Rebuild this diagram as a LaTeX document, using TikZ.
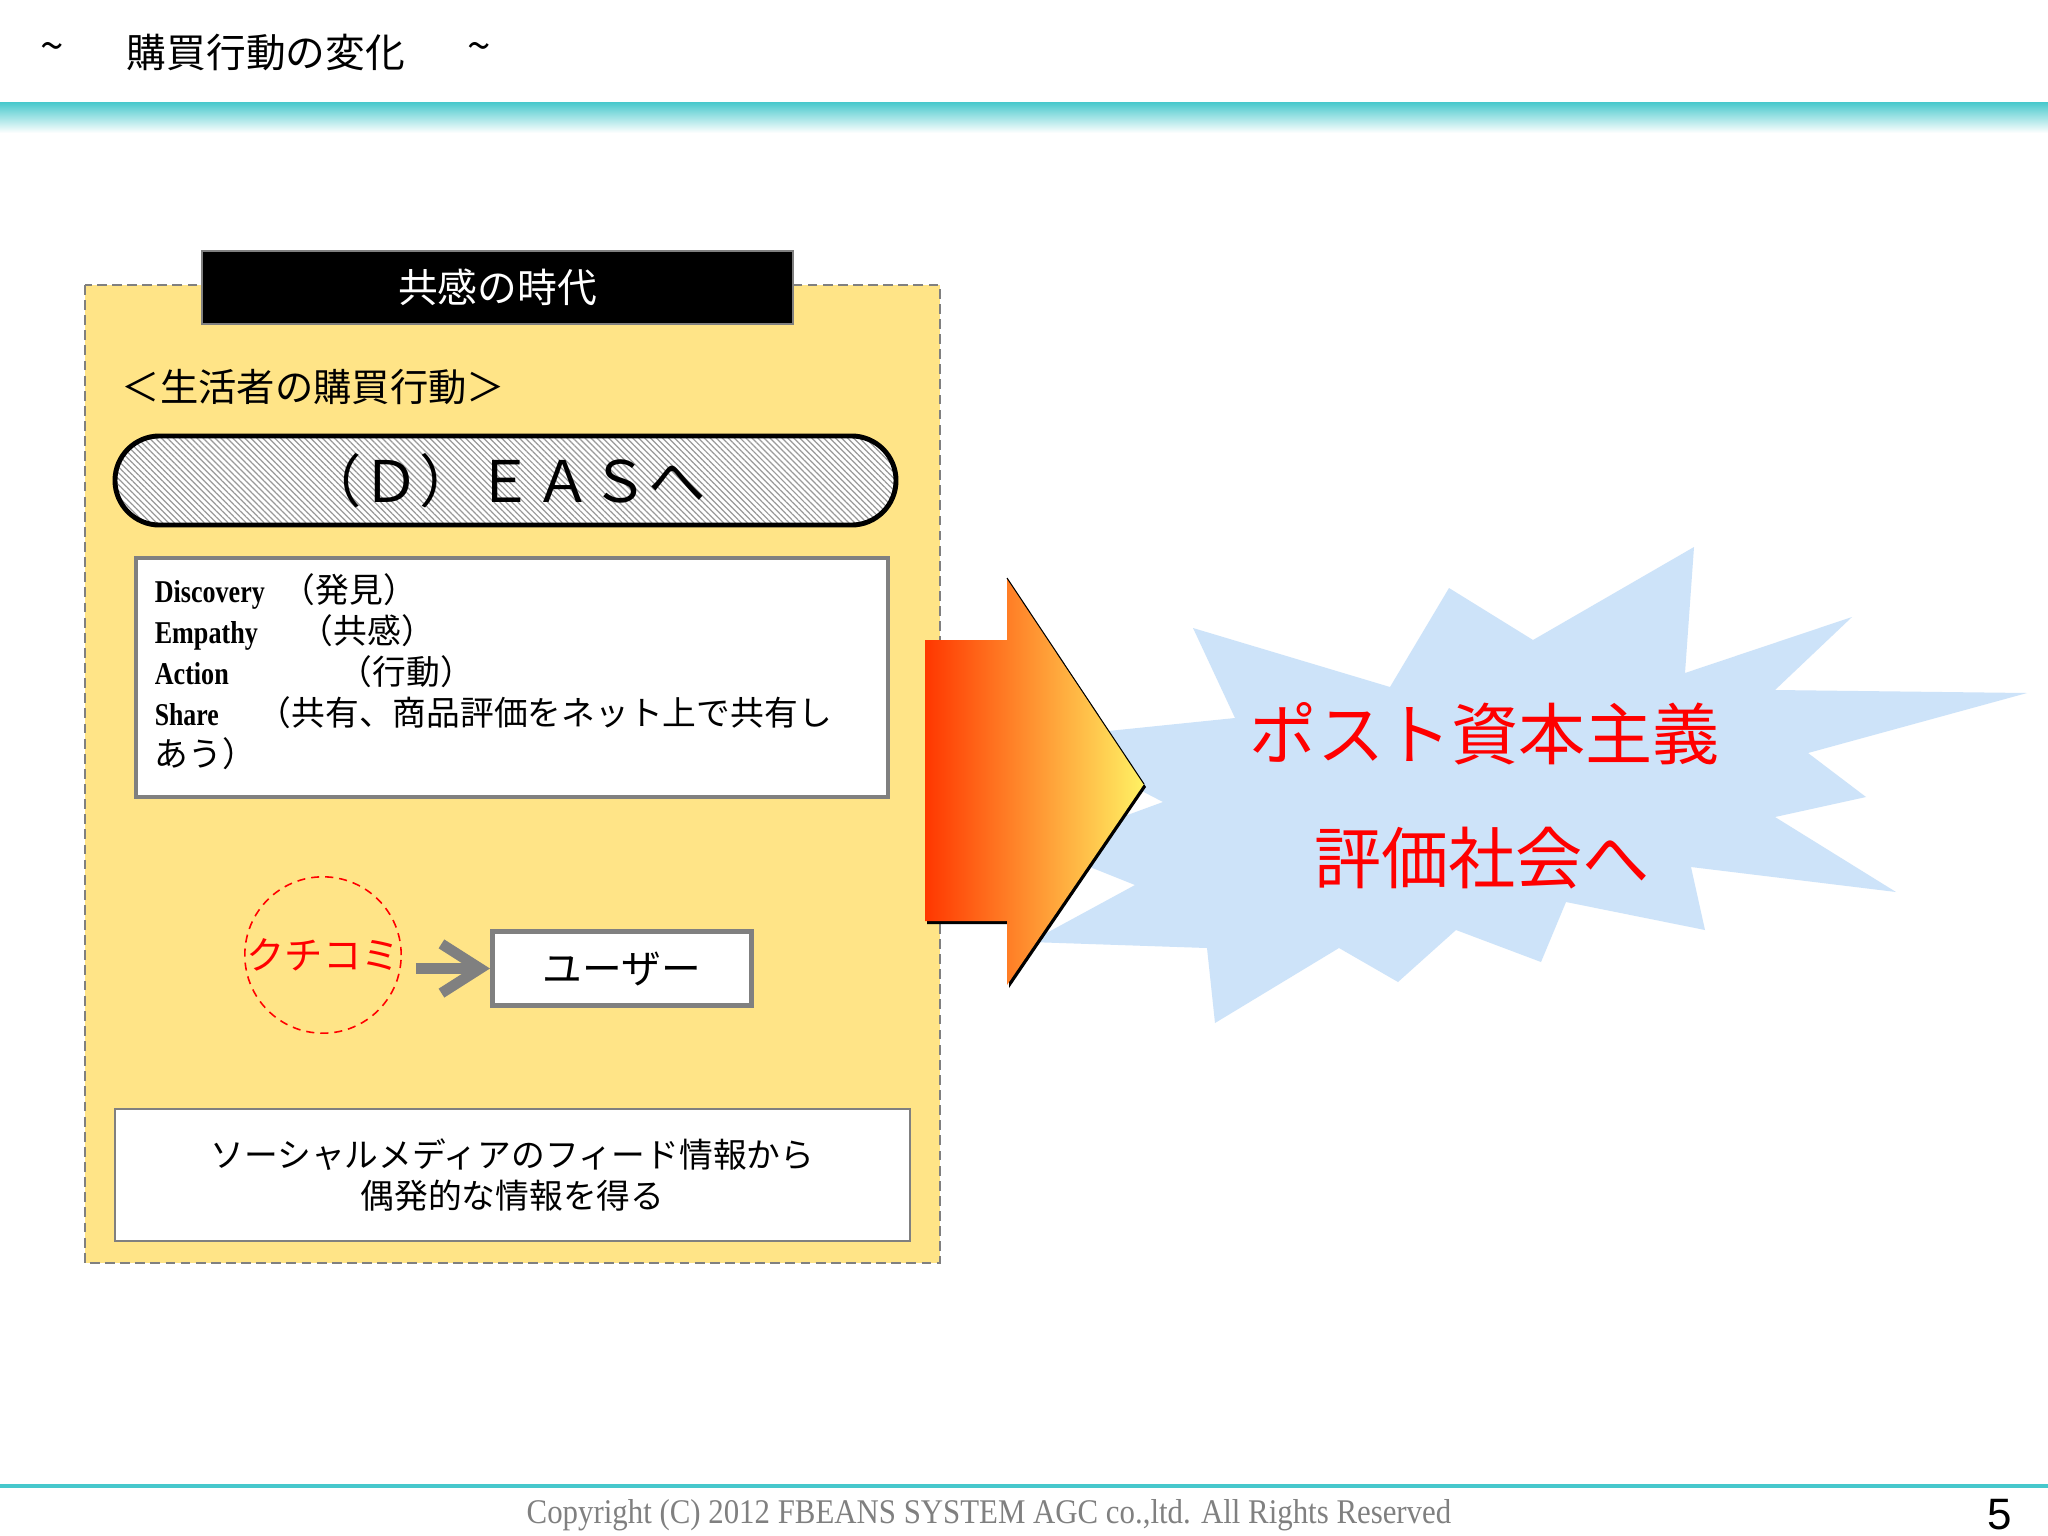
\documentclass[tikz,border=0pt]{standalone}
\usepackage{fontspec}
\newfontfamily\jpfont{Noto Sans CJK JP}
\newfontfamily\numfont{Liberation Sans}
\newfontfamily\oldfont{Liberation Serif}
\newcommand\jpsize[2]{\jpfont\fontsize{#1}{#2}\selectfont}
\newcommand\engword[2]{\resizebox{#1}{0.22cm}{\oldfont\bfseries #2}}
\usepackage{xcolor}
\definecolor{panelyellow}{RGB}{255,228,135}
\definecolor{bandteal}{RGB}{70,200,204}
\definecolor{burstblue}{RGB}{205,227,249}
\definecolor{framegray}{RGB}{128,128,128}
\usetikzlibrary{arrows.meta, calc, patterns.meta, shapes.misc}

\begin{document}
\begin{tikzpicture}[x=0.01cm, y=-0.01cm,
  box/.style={draw=framegray, fill=white, inner sep=0pt},
  redtext/.style={text=red, font=\jpsize{19.1}{23}}]
 \useasboundingbox (0,0) rectangle (2048,1536);
 \fill[white] (0,0) rectangle (2048,1536);
 % header
 \node[font=\jpsize{12}{13}] (tildel) at (52,52) {\textasciitilde};
 \node[font=\jpsize{11.3}{13}] (title) at (266,52) {購買行動の変化};
 \node[font=\jpsize{12}{13}] (tilder) at (479,52) {\textasciitilde};
 \shade[top color=bandteal, bottom color=white] (0,102) rectangle (2048,133);
 % left panel
 \draw[framegray, fill=panelyellow, line width=0.6pt, dash pattern=on 2.8pt off 1.5pt]
   (85,285) rectangle (940,1263);
 \node[fill=black, draw=framegray, text=white, minimum width=5.91cm, minimum height=0.73cm,
   font=\jpsize{11.3}{13}] (era) at (497.5,287.5) {共感の時代};
 \node[anchor=west, inner sep=0pt, font=\jpsize{10.9}{13}] (consumer) at (121,387) {＜生活者の購買行動＞};
 \node[rounded rectangle, draw, line width=1.4pt, preaction={fill=white},
   pattern={Lines[angle=-45, distance=1.2pt, line width=0.35pt]}, pattern color=gray!80,
   minimum width=8.04cm, minimum height=0.89cm, font=\jpsize{16.3}{19}] (deas) at (505.5,480.5) {（Ｄ）ＥＡＳへ};
 \node[box, line width=1pt, minimum width=7.52cm, minimum height=2.39cm] (steps) at (512,677.5) {};
 \node[text width=7.14cm, align=left, inner sep=0pt, font=\jpsize{9.6}{11.7}] (stepstext)
   at ($(steps.center)+(0,-6)$)
   {\makebox[1.27cm][l]{\engword{1.10cm}{Discovery}}（発見）\\
    \makebox[1.45cm][l]{\engword{1.03cm}{Empathy}}（共感）\\
    \makebox[1.84cm][l]{\engword{0.74cm}{Action}}（行動）\\
    \makebox[1.03cm][l]{\engword{0.64cm}{Share}}（共有、商品評価をネット上で共有し\\
    あう）};
 \node[circle, draw=red, line width=0.45pt, dash pattern=on 2.3pt off 1.7pt, minimum size=1.48cm,
   inner sep=0pt, text=red, font=\jpsize{10.9}{13}] (kuchikomi) at (323,955) {クチコミ};
 \node[box, line width=1.4pt, minimum width=2.59cm, minimum height=0.74cm,
   font=\jpsize{11.3}{13}] (user) at (622,968.5) {ユーザー};
 \draw[framegray, line width=3pt, -{Straight Barb[length=11pt, width=14pt]}, shorten <=0.14cm]
   (kuchikomi.east |- user.west) -- (user.west);
 \node[box, line width=0.6pt, minimum width=7.95cm, minimum height=1.32cm, align=center,
   font=\jpsize{9.6}{11.5}] (feed) at (512.5,1175) {ソーシャルメディアのフィード情報から\\偶発的な情報を得る};
 % starburst
 \fill[burstblue] (1694,547) -- (1685,673) -- (1852,617) -- (1775,690) -- (2027,693) -- (1808,753)
   -- (1866,797) -- (1775,817) -- (1896,892) -- (1691,867) -- (1705,930) -- (1566,902) -- (1541,962)
   -- (1456,930) -- (1398,982) -- (1339,948) -- (1215,1023) -- (1207,948) -- (1030,942) -- (1135,885)
   -- (1040,847) -- (1163,802) -- (1040,738) -- (1235,718) -- (1193,628) -- (1390,687) -- (1449,588)
   -- (1533,640) -- cycle;
 % big arrow
 \fill[black, shift={(2,3)}] (925,640) -- (1007,640) -- (1007,578) -- (1144,784) -- (1007,985)
   -- (1007,921) -- (925,921) -- cycle;
 \shade[left color={rgb,255:red,255;green,55;blue,0}, middle color={rgb,255:red,255;green,140;blue,50},
   right color={rgb,255:red,255;green,242;blue,100}]
   (925,640) coordinate (r1) -- (1007,640) -- (1007,578) coordinate (t1) -- (1144,784) coordinate (tip)
   -- (1007,985) -- (1007,921) -- (925,921) -- cycle;
 \draw[line width=0.3pt] (t1) -- (tip);
 \node[redtext] (post) at (1485,734) {ポスト資本主義};
 \node[redtext] (society) at (1482,858) {評価社会へ};
 % footer
 \draw[bandteal, line width=1.2pt] (0,1486) -- (2048,1486);
 \node[text=framegray, inner sep=0pt] (copy) at (989,1515)
   {\resizebox{9.24cm}{0.24cm}{\oldfont Copyright (C) 2012 FBEANS SYSTEM AGC co.,ltd. All Rights Reserved}};
 \node[font=\numfont\fontsize{12.5}{14}\selectfont] (page) at (2000,1515) {5};
\end{tikzpicture}
\end{document}
